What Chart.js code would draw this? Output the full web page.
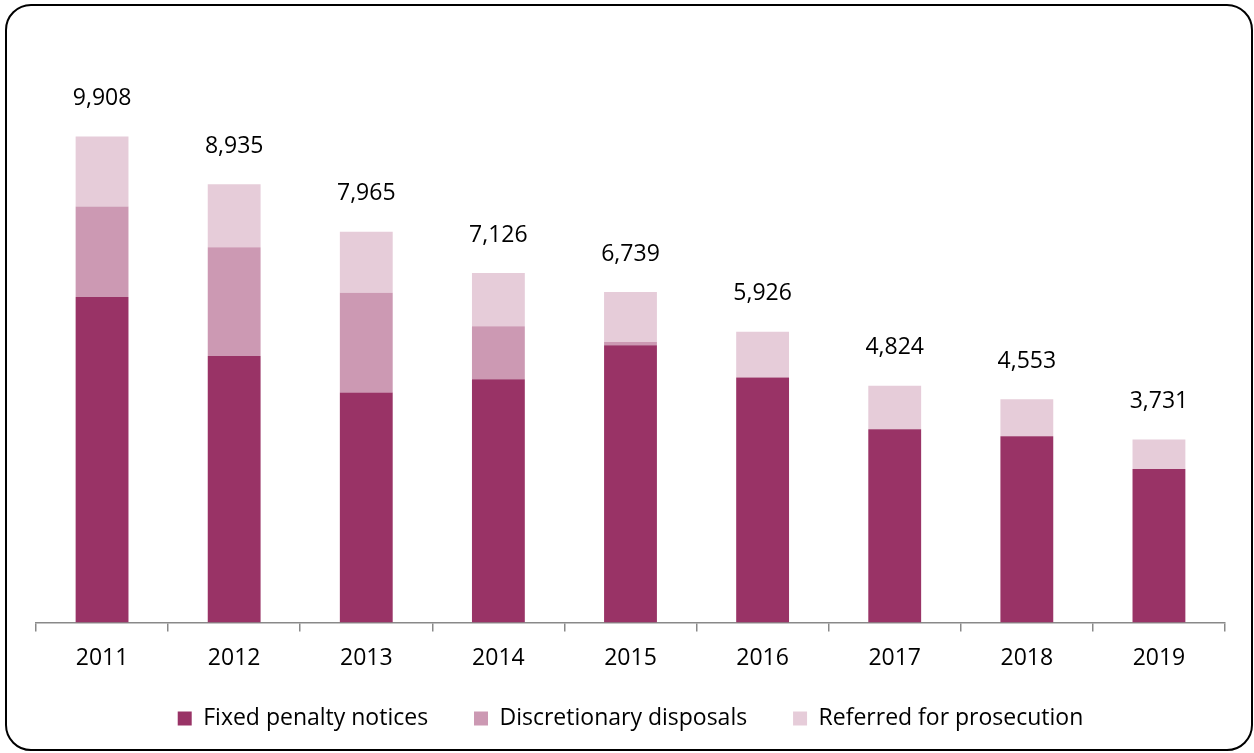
<!DOCTYPE html>
<html>
<head>
<meta charset="utf-8">
<script src="https://cdn.jsdelivr.net/npm/chart.js@4"></script>
<style>
  body { margin: 0; background: #fff; }
  #wrap { position: relative; width: 1254px; height: 753px; }
  #frame {
    position: absolute; left: 5px; top: 4px; width: 1248px; height: 747px;
    box-sizing: border-box; border: 2px solid #000; border-radius: 26px;
    pointer-events: none;
  }
</style>
</head>
<body>
<div id="wrap">
  <canvas id="offencesChart"></canvas>
  <div id="frame"></div>
</div>
<script>
const years = ['2011', '2012', '2013', '2014', '2015', '2016', '2017', '2018', '2019'];
const fixedPenalty = [6634, 5434, 4690, 4961, 5652, 4995, 3938, 3796, 3131];
const discretionary = [1850, 2217, 2033, 1077, 67, 0, 0, 0, 0];
const referred = [1424, 1284, 1242, 1088, 1020, 931, 886, 757, 600];
const totals = [9908, 8935, 7965, 7126, 6739, 5926, 4824, 4553, 3731];

const FONT = '"Open Sans", Lato, sans-serif';

// totals written above each stacked bar
const totalLabels = {
  id: 'totalLabels',
  afterDatasetsDraw(chart) {
    const ctx = chart.ctx;
    const top = chart.getDatasetMeta(2).data;
    ctx.save();
    ctx.font = '23px ' + FONT;
    ctx.fillStyle = '#000';
    ctx.textAlign = 'center';
    ctx.textBaseline = 'middle';
    totals.forEach((t, i) => {
      ctx.fillText(t.toLocaleString('en-US'), top[i].x, top[i].y - 38);
    });
    ctx.restore();
  }
};

const ctx = document.getElementById('offencesChart').getContext('2d');

const offencesChart = new Chart(ctx, {
  type: 'bar',
  data: {
    labels: years,
    datasets: [{
      label: 'Fixed penalty notices',
      data: fixedPenalty,
      backgroundColor: '#993366'
    }, {
      label: 'Discretionary disposals',
      data: discretionary,
      backgroundColor: '#cc99b3'
    }, {
      label: 'Referred for prosecution',
      data: referred,
      backgroundColor: '#e6ccd9'
    }]
  },
  options: {
    responsive: true,
    maintainAspectRatio: false,
    animation: false,
    datasets: {
      bar: { categoryPercentage: 1, barPercentage: 0.4 }
    },
    layout: {
      padding: { left: 36, right: 29, top: 34, bottom: 13 }
    },
    plugins: {
      legend: {
        position: 'bottom',
        labels: {
          boxWidth: 14,
          boxHeight: 14,
          padding: 22,
          color: '#000',
          font: { family: FONT, size: 23 },
          // extra trailing space widens the gap between items
          generateLabels(chart) {
            const items = Chart.defaults.plugins.legend.labels.generateLabels(chart);
            items.forEach((it, i) => {
              if (i < items.length - 1) it.text += '\u00a0\u00a0\u00a0\u00a0';
            });
            return items;
          }
        }
      },
      tooltip: { enabled: false }
    },
    scales: {
      x: {
        stacked: true,
        grid: {
          display: true,
          drawOnChartArea: false,
          drawTicks: true,
          tickLength: 9,
          color: '#898989',
          lineWidth: 1.5
        },
        border: { display: true, color: '#898989', width: 1.5 },
        ticks: {
          color: '#000',
          padding: 13,
          font: { family: FONT, size: 23 }
        }
      },
      y: {
        stacked: true,
        display: false,
        min: 0,
        max: 12000
      }
    }
  },
  plugins: [totalLabels]
});
</script>
</body>
</html>
